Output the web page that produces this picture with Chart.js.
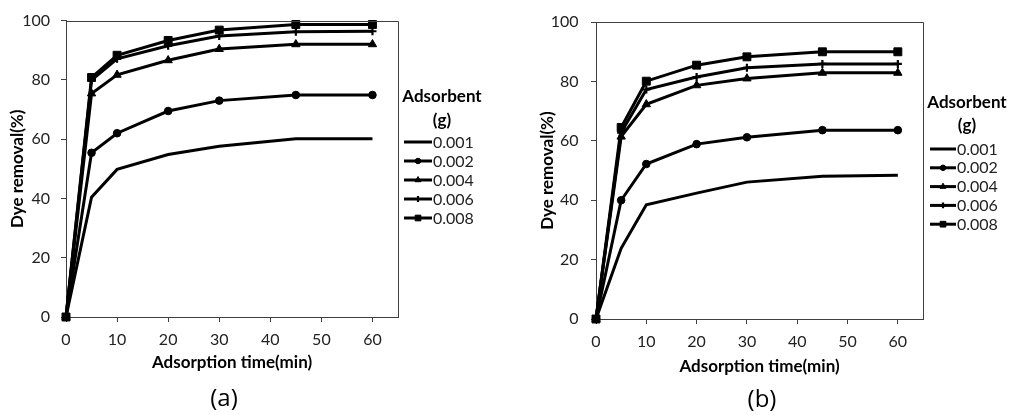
<!DOCTYPE html>
<html>
<head>
<meta charset="utf-8">
<script src="https://cdn.jsdelivr.net/npm/chart.js@4/dist/chart.umd.min.js"></script>
<style>
  html, body { margin:0; padding:0; background:#fff; }
  body { width:1009px; height:415px; position:relative; overflow:hidden; font-family: Lato, "Open Sans", sans-serif; }
  canvas { position:absolute; top:0; }
  #ca { left:0; }
  #cb { left:500px; }
  .cap { position:absolute; font-size:24px; color:#000; transform:translate(-50%,-50%); font-family: "Open Sans", Lato, sans-serif; }
</style>
</head>
<body>
<canvas id="ca" width="500" height="415"></canvas>
<canvas id="cb" width="509" height="415"></canvas>
<div class="cap" style="left:224px; top:396px;">(a)</div>
<div class="cap" style="left:762px; top:397px;">(b)</div>
<script>
// ---- data ----
const times = [0, 5, 10, 20, 30, 45, 60];
const doses = ['0.001', '0.002', '0.004', '0.006', '0.008'];
const xTickValues = [0, 10, 20, 30, 40, 50, 60];
const yTickValues = [0, 20, 40, 60, 80, 100];

// panel (a)
const a_0001 = [0, 40.4, 49.8, 54.8, 57.6, 60.1, 60.1];
const a_0002 = [0, 55.4, 62.0, 69.5, 73.0, 74.9, 74.9];
const a_0004 = [0, 75.4, 81.7, 86.6, 90.4, 92.0, 92.0];
const a_0006 = [0, 79.9, 87.1, 91.5, 94.8, 96.2, 96.4];
const a_0008 = [0, 80.8, 88.3, 93.3, 96.8, 98.7, 98.7];

// panel (b)
const b_0001 = [0, 23.8, 38.5, 42.4, 46.1, 48.1, 48.4];
const b_0002 = [0, 40.0, 52.2, 58.9, 61.2, 63.6, 63.6];
const b_0004 = [0, 61.4, 72.3, 78.7, 81.0, 82.9, 82.9];
const b_0006 = [0, 62.8, 77.3, 81.5, 84.6, 85.9, 85.9];
const b_0008 = [0, 64.5, 80.1, 85.5, 88.3, 90.0, 90.0];

// ---- styles ----
const pointStyles = [false, 'circle', 'triangle', 'cross', 'rect'];
const pointRadii  = [0, 3.8, 4.8, 4, 5.6];
const pointBorders = [1, 1, 1, 2.2, 1];
const AXIS_COLOR = '#3f3f3f';
const TICK_TEXT = '#222';
const FONT = 'Lato, "Open Sans", sans-serif';

function buildDatasets(seriesList) {
  return seriesList.map((vals, i) => ({
    label: doses[i],
    data: times.map((t, k) => ({ x: t, y: vals[k] })),
    borderColor: '#000',
    backgroundColor: '#000',
    borderWidth: 3,
    tension: 0,
    pointStyle: pointStyles[i] || 'circle',
    pointRadius: pointRadii[i],
    pointHoverRadius: pointRadii[i],
    pointBackgroundColor: '#000',
    pointBorderColor: '#000',
    pointBorderWidth: pointBorders[i],
    clip: 8,
    order: 5 - i
  }));
}

const framePlugin = {
  id: 'frame',
  afterDatasetsDraw(chart) {
    const { ctx, chartArea: a } = chart;
    ctx.save();
    ctx.strokeStyle = AXIS_COLOR;
    ctx.lineWidth = 1;
    ctx.beginPath();
    ctx.moveTo(Math.round(a.left) + 0.5, Math.round(a.top) + 0.5);
    ctx.lineTo(Math.round(a.right) + 0.5, Math.round(a.top) + 0.5);
    ctx.lineTo(Math.round(a.right) + 0.5, Math.round(a.bottom) + 0.5);
    ctx.stroke();
    ctx.restore();
  }
};

const sideLegend = {
  id: 'sideLegend',
  afterDraw(chart, args, o) {
    const ctx = chart.ctx;
    ctx.save();
    ctx.fillStyle = '#000';
    ctx.textBaseline = 'middle';
    ctx.textAlign = 'center';
    ctx.font = 'bold 17px ' + FONT;
    ctx.fillText('Adsorbent', o.cx, o.t1);
    ctx.fillText('(g)', o.cx, o.t2);
    chart.data.datasets.forEach((ds, i) => {
      const y = o.y0 + i * o.dy;
      ctx.strokeStyle = '#000';
      ctx.lineWidth = 3;
      ctx.beginPath();
      ctx.moveTo(o.x0, y);
      ctx.lineTo(o.x1, y);
      ctx.stroke();
      if (ds.pointRadius > 0) {
        ctx.fillStyle = '#000';
        ctx.lineWidth = ds.pointBorderWidth;
        Chart.helpers.drawPoint(ctx, {
          pointStyle: ds.pointStyle, rotation: 0,
          radius: ds.pointRadius * 0.72, borderWidth: ds.pointBorderWidth
        }, (o.x0 + o.x1) / 2, y);
      }
      ctx.fillStyle = '#222';
      ctx.textAlign = 'left';
      ctx.font = '16px ' + FONT;
      ctx.fillText(ds.label, o.x1 + 1, y + 0.5);
    });
    ctx.restore();
  }
};

function makeChart(id, seriesList, g) {
  return new Chart(document.getElementById(id), {
    type: 'line',
    data: { datasets: buildDatasets(seriesList) },
    plugins: [framePlugin, sideLegend],
    options: {
      responsive: false,
      animation: false,
      devicePixelRatio: 1,
      events: [],
      layout: { padding: { left: 0, top: g.top, right: g.right, bottom: g.bottom } },
      plugins: {
        legend: { display: false },
        tooltip: { enabled: false },
        title: { display: false },
        sideLegend: g.legend
      },
      scales: {
        x: {
          type: 'linear',
          min: 0, max: 65,
          afterBuildTicks: (s) => { s.ticks = xTickValues.map(v => ({ value: v })); },
          afterFit: (s) => { s.height = g.xh; },
          border: { display: true, color: AXIS_COLOR, width: 1 },
          grid: { drawOnChartArea: false, drawTicks: true, tickLength: 5, color: AXIS_COLOR, tickColor: AXIS_COLOR },
          ticks: { color: TICK_TEXT, font: { family: FONT, size: 16 }, padding: g.xpad, maxRotation: 0, autoSkip: false },
          title: { display: true, text: 'Adsorption time(min)', color: '#000',
                   font: { family: FONT, size: 17, weight: 'bold' }, padding: { top: 0, bottom: g.xtpad } }
        },
        y: {
          type: 'linear',
          min: 0, max: 100,
          afterBuildTicks: (s) => { s.ticks = yTickValues.map(v => ({ value: v })); },
          afterFit: (s) => { s.width = g.yw; },
          border: { display: true, color: AXIS_COLOR, width: 1 },
          grid: { drawOnChartArea: false, drawTicks: true, tickLength: 5, color: AXIS_COLOR, tickColor: AXIS_COLOR },
          ticks: { color: TICK_TEXT, font: { family: FONT, size: 16 }, padding: g.ypad },
          title: { display: true, text: 'Dye removal(%)', color: '#000',
                   font: { family: FONT, size: 17, weight: 'bold' }, padding: { top: g.ytpad, bottom: 0 } }
        }
      }
    }
  });
}

makeChart('ca', [a_0001, a_0002, a_0004, a_0006, a_0008], {
  top: 15, right: 102, bottom: 40, xh: 58, yw: 66, xpad: 8, ypad: 11, xtpad: 2, ytpad: 7,
  legend: { cx: 442, t1: 97, t2: 121, y0: 142, dy: 19, x0: 404, x1: 432 }
});
makeChart('cb', [b_0001, b_0002, b_0004, b_0006, b_0008], {
  top: 21, right: 86, bottom: 38, xh: 58, yw: 96, xpad: 8, ypad: 12.5, xtpad: 0.5, ytpad: 37,
  legend: { cx: 467, t1: 103, t2: 126, y0: 149, dy: 18.8, x0: 430, x1: 456 }
});
</script>
</body>
</html>
